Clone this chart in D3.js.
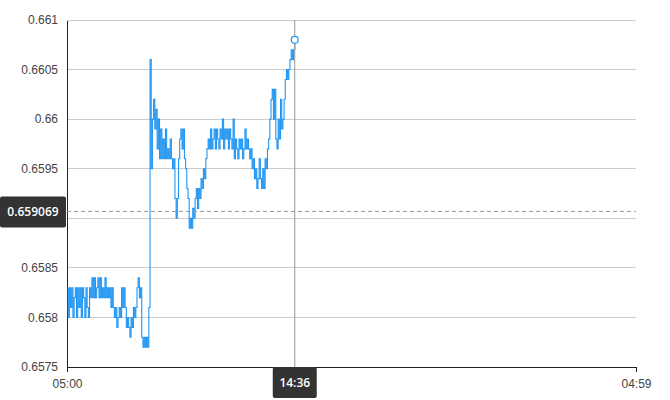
<!DOCTYPE html>
<html>
<head>
<meta charset="utf-8">
<script src="https://cdn.jsdelivr.net/npm/d3@7"></script>
<style>
  html, body { margin: 0; padding: 0; background: #fff; }
  svg { display: block; font-family: "Open Sans", "Noto Sans", sans-serif; }
</style>
</head>
<body>
<svg id="chart" width="670" height="400"></svg>
<script>
// ---- data ----
const startTime = "05:00";
const endTime = "04:59";          // next day
const stepMinutes = 3;            // sampling step of the series
const prices = [
  0.6583,0.6580,0.6583,0.6581,0.6583,0.6580,0.6582,0.6583,0.6580,0.6583,
  0.6581,0.6583,0.6580,0.6583,0.6582,0.6580,0.6583,0.6581,0.6580,0.6583,
  0.6582,0.6584,0.6582,0.6584,0.6582,0.6583,0.6584,0.6582,0.6584,0.6582,
  0.6583,0.6582,0.6584,0.6582,0.6583,0.6582,0.6583,0.6581,0.6583,0.6581,
  0.6580,0.6581,0.6579,0.6580,0.6581,0.6580,0.6583,0.6581,0.6583,0.6581,
  0.6579,0.6580,0.6579,0.6578,0.6580,0.6579,0.6581,0.6580,0.6581,0.6583,
  0.6584,0.6582,0.6583,0.6578,0.6577,0.6578,0.6577,0.6578,0.6577,0.6581,
  0.6606,0.6595,0.6600,0.6602,0.6599,0.6601,0.6597,0.6600,0.6596,0.6599,
  0.6596,0.6598,0.6596,0.6599,0.6596,0.6597,0.6596,0.6598,0.6596,0.6595,
  0.6596,0.6592,0.6590,0.6592,0.6596,0.6598,0.6599,0.6597,0.6599,0.6596,
  0.6595,0.6593,0.6592,0.6589,0.6590,0.6589,0.6591,0.6590,0.6592,0.6593,
  0.6591,0.6593,0.6592,0.6594,0.6593,0.6595,0.6594,0.6596,0.6597,0.6598,
  0.6597,0.6599,0.6597,0.6598,0.6599,0.6597,0.6599,0.6598,0.6597,0.6599,
  0.6598,0.6600,0.6597,0.6599,0.6598,0.6599,0.6597,0.6599,0.6598,0.6597,
  0.6600,0.6596,0.6598,0.6597,0.6596,0.6598,0.6597,0.6598,0.6596,0.6597,
  0.6599,0.6597,0.6598,0.6597,0.6596,0.6597,0.6595,0.6596,0.6594,0.6595,
  0.6593,0.6594,0.6596,0.6594,0.6593,0.6595,0.6593,0.6596,0.6595,0.6597,
  0.6598,0.6600,0.6602,0.6603,0.6600,0.6603,0.6598,0.6597,0.6600,0.6598,
  0.6602,0.6599,0.6600,0.6602,0.6604,0.6605,0.6604,0.6605,0.6606,0.6607,
  0.6606,0.6607,0.6608
];
const yTicks = [0.6575, 0.658, 0.6585, 0.659, 0.6595, 0.66, 0.6605, 0.661];
const xTickLabels = ["05:00", "04:59"];
const crosshairValue = 0.659069;
const crosshairTime = "14:36";

// ---- layout ----
const W = 670, H = 400;
const margin = { top: 20, right: 34, bottom: 33, left: 67 };
const innerW = W - margin.left - margin.right;
const innerH = H - margin.top - margin.bottom;

const parse = (s, dayOffset) => {
  const [h, m] = s.split(":").map(Number);
  return new Date(2024, 0, 1 + dayOffset, h, m);
};
const t0 = parse(startTime, 0);
const t1 = parse(endTime, 1);
const data = prices.map((v, i) => ({ t: new Date(t0.getTime() + i * stepMinutes * 60000), v }));

const x = d3.scaleTime().domain([t0, t1]).range([0, innerW]);
const y = d3.scaleLinear().domain([0.6575, 0.661]).range([innerH, 0]);

const svg = d3.select("#chart");
const g = svg.append("g").attr("transform", `translate(${margin.left},${margin.top})`);

// gridlines
g.append("g").selectAll("line").data(yTicks).join("line")
  .attr("x1", 0).attr("x2", innerW)
  .attr("y1", d => y(d)).attr("y2", d => y(d))
  .attr("stroke", "#cccccc").attr("stroke-width", 1)
  .attr("shape-rendering", "crispEdges");

// y axis (labels hidden beneath the crosshair value box are not drawn)
const boxHalf = 16;
const yAxis = g.append("g").call(d3.axisLeft(y).tickValues(yTicks).tickSize(0).tickPadding(9)
  .tickFormat(d => Math.abs(y(d) - y(crosshairValue)) < boxHalf ? "" : String(+d.toFixed(4))));
yAxis.select(".domain").attr("stroke", "#222").attr("shape-rendering", "crispEdges");
yAxis.selectAll("text").attr("fill", "#444").style("font-size", "12px");

// x axis
const xAxis = g.append("g").attr("transform", `translate(0,${innerH})`)
  .call(d3.axisBottom(x).tickValues([t0, t1]).tickSizeOuter(0).tickSize(5).tickPadding(7)
    .tickFormat((d, i) => xTickLabels[i]));
xAxis.select(".domain").attr("stroke", "#222").attr("shape-rendering", "crispEdges");
xAxis.selectAll(".tick line").attr("stroke", "#222").attr("shape-rendering", "crispEdges");
xAxis.selectAll("text").attr("fill", "#444").style("font-size", "12px");

// series line (tick data drawn as steps)
const line = d3.line().curve(d3.curveStepAfter).x(d => x(d.t)).y(d => y(d.v));
g.append("path").datum(data)
  .attr("fill", "none").attr("stroke", "#2196f3").attr("stroke-width", 1.1)
  .attr("d", line);

// crosshair
const last = data[data.length - 1];
const cx = x(parse(crosshairTime, 0));
g.append("line").attr("x1", cx).attr("x2", cx).attr("y1", 0).attr("y2", innerH)
  .attr("stroke", "#999").attr("stroke-width", 1);
g.append("line").attr("x1", 0).attr("x2", innerW)
  .attr("y1", y(crosshairValue)).attr("y2", y(crosshairValue))
  .attr("stroke", "#999").attr("stroke-width", 1).attr("stroke-dasharray", "4,3");

// last point marker
g.append("circle").attr("cx", x(last.t)).attr("cy", y(last.v)).attr("r", 3.5)
  .attr("fill", "#fff").attr("stroke", "#2196f3").attr("stroke-width", 1.2);

// crosshair labels
const yl = svg.append("g").attr("transform", `translate(0,${margin.top + y(crosshairValue)})`);
yl.append("rect").attr("x", 0).attr("y", -15).attr("width", margin.left - 1).attr("height", 31)
  .attr("rx", 2).attr("fill", "#333");
yl.append("text").attr("x", (margin.left - 1) / 2).attr("y", 0).attr("dy", "0.35em")
  .attr("text-anchor", "middle").attr("fill", "#fff").style("font-size", "12px").style("font-weight", 600)
  .text(crosshairValue.toFixed(6));

const xl = svg.append("g").attr("transform", `translate(${margin.left + cx},${margin.top + innerH})`);
xl.append("rect").attr("x", -22).attr("y", 0).attr("width", 44).attr("height", 31)
  .attr("rx", 2).attr("fill", "#333");
xl.append("text").attr("x", 0).attr("y", 15.5).attr("dy", "0.35em")
  .attr("text-anchor", "middle").attr("fill", "#fff").style("font-size", "12px").style("font-weight", 600)
  .text(crosshairTime);
</script>
</body>
</html>
